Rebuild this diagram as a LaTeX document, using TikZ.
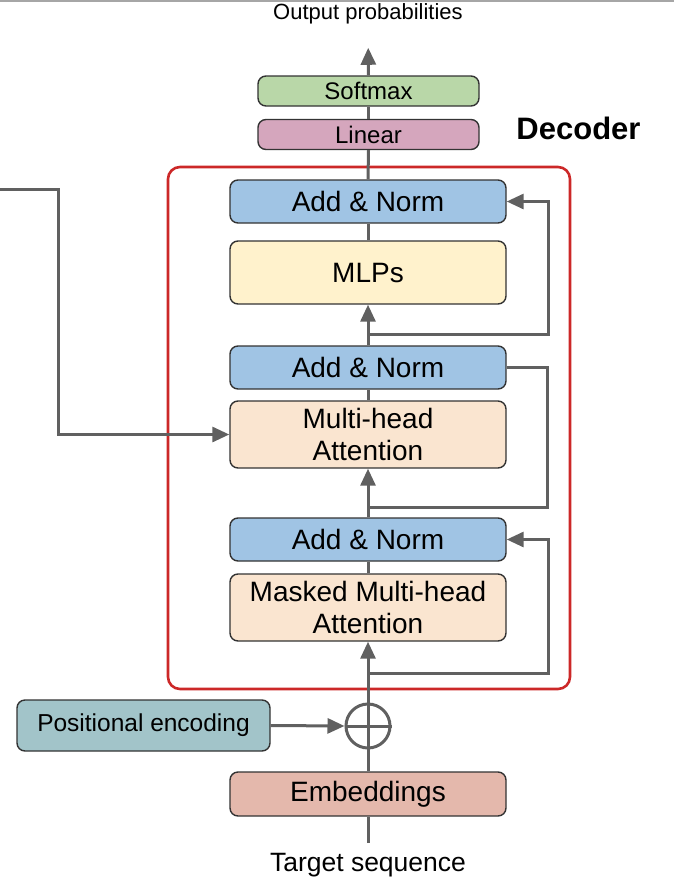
\documentclass[tikz,border=0pt]{standalone}
\usepackage{fontspec}
\setmainfont{Liberation Sans}
\usetikzlibrary{arrows.meta}

\definecolor{linegray}{RGB}{96,96,96}
\definecolor{boxred}{RGB}{204,40,40}
\definecolor{softgreen}{RGB}{185,215,168}
\definecolor{linpink}{RGB}{213,166,189}
\definecolor{normblue}{RGB}{160,196,228}
\definecolor{mlpyellow}{RGB}{255,242,204}
\definecolor{attpeach}{RGB}{250,229,208}
\definecolor{posteal}{RGB}{162,196,201}
\definecolor{embrose}{RGB}{228,184,172}

\begin{document}
\begin{tikzpicture}[x=1pt,y=-1pt,
        blk/.style={draw=black!80, line width=1.4pt, rounded corners=8pt, inner sep=0pt,
            align=center, font=\fontsize{28}{32}\selectfont},
        wide/.style={blk, minimum width=276pt},
        addnorm/.style={wide, fill=normblue, minimum height=43pt},
        attn/.style={wide, fill=attpeach, minimum height=67pt},
        thin/.style={blk, minimum width=221pt, minimum height=30pt, font=\fontsize{24}{28}\selectfont},
        conn/.style={draw=linegray, line width=3pt},
        arr/.style={conn, -{Triangle[length=17pt,width=15pt]}}]
    \useasboundingbox (0,0) rectangle (674,884);
    \draw[gray!70, line width=2pt] (0,1) -- (674,1);

    \node[draw=boxred, line width=2.6pt, rounded corners=12pt, minimum width=402pt, minimum height=522pt] (dec) at (369,428) {};
    \node[font=\fontsize{31}{36}\selectfont\bfseries] (dectitle) at (578.5,128) {Decoder};

    \node[font=\fontsize{22}{26}\selectfont] (out) at (368,14) {Output probabilities};
    \node[thin, fill=softgreen] (soft) at (368.5,91) {Softmax};
    \node[thin, fill=linpink] (lin) at (368.5,134.5) {Linear};

    \foreach \n/\y in {1/201.5,2/367.5,3/539.5} {
        \node[addnorm] (an\n) at (368,\y) {Add \& Norm};
    }
    \node[wide, fill=mlpyellow, minimum height=63pt] (mlp) at (368,272.5) {MLPs};
    \node[attn] (mha) at (368,434.5) {Multi-head\\Attention};
    \node[attn] (mmha) at (368,607.5) {Masked Multi-head\\Attention};

    \node[circle, draw=linegray, line width=3pt, minimum size=44pt, inner sep=0pt] (sum) at (368,726) {};
    \node[blk, fill=posteal, minimum width=253pt, minimum height=51pt, font=\fontsize{24.5}{28}\selectfont] (pe) at (143.5,725.5) {Positional encoding};
    \node[wide, fill=embrose, minimum height=44pt] (emb) at (368,794) {Embeddings};
    \node[font=\fontsize{26.5}{30}\selectfont] (tgt) at (368,865) {Target sequence};

    \coordinate (tgtin) at (368,843);
    \coordinate (res1) at (368,673);
    \coordinate (res2) at (368,507);
    \coordinate (res3) at (368,334);
    \coordinate (enc) at (0,189);

    % main path
    \draw[conn] (tgtin) -- (emb.south);
    \draw[conn] (emb.north) -- (sum.south);
    \draw[conn] (sum.west) -- (sum.east);
    \draw[conn] (sum.south) -- (sum.north);
    \draw[arr] (pe.east) -- (sum.west);
    \draw[arr] (sum.north) -- (mmha.south);
    \draw[conn] (mmha.north) -- (an3.south);
    \draw[arr] (an3.north) -- (mha.south);
    \draw[conn] (mha.north) -- (an2.south);
    \draw[arr] (an2.north) -- (mlp.south);
    \draw[conn] (mlp.north) -- (an1.south);
    \draw[conn] (an1.north) -- (lin.south);
    \draw[conn] (lin.north) -- (soft.south);
    \draw[arr, shorten >=20pt] (soft.north) -- (out.south);

    % residuals
    \draw[arr] (res1) -- ++(180,0) |- (an3.east);
    \draw[conn] (an2.east) -- ++(41,0) |- (res2);
    \draw[arr] (res3) -- ++(180,0) |- (an1.east);

    % encoder input
    \draw[arr] (enc) -- ++(58,0) |- (mha.west);
\end{tikzpicture}
\end{document}
